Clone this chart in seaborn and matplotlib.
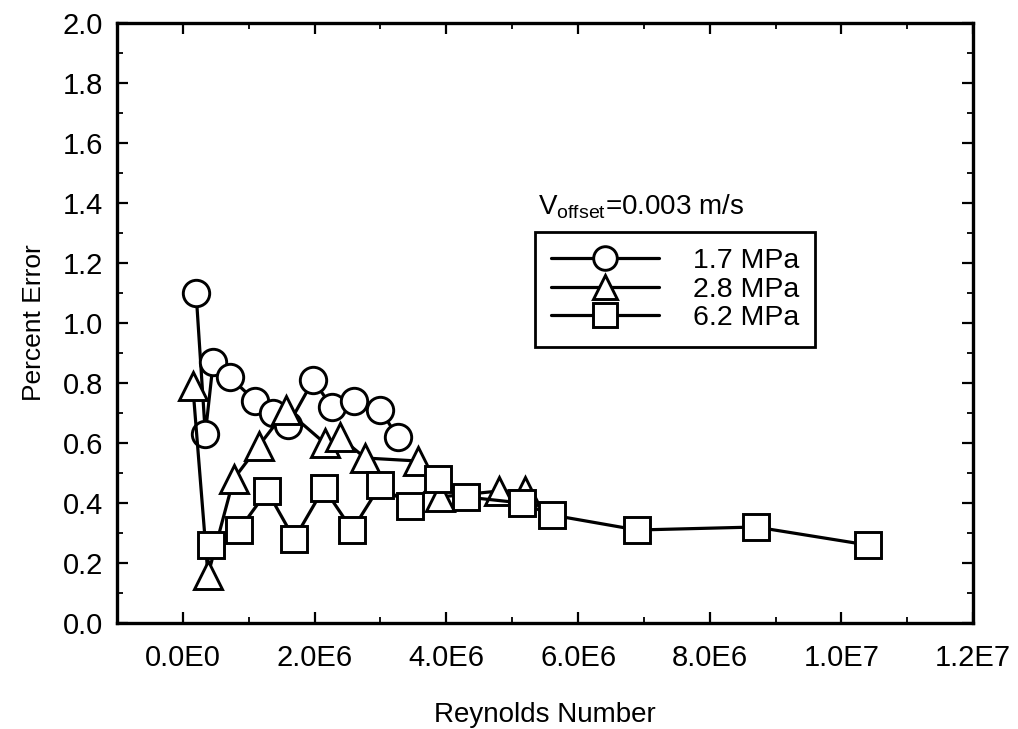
import numpy as np
import pandas as pd
import matplotlib
matplotlib.use("Agg")
import matplotlib.pyplot as plt
import seaborn as sns
from matplotlib.ticker import MultipleLocator, FuncFormatter

sns.set_theme(style="ticks")
plt.rcParams['font.family'] = ['Liberation Sans', 'DejaVu Sans']
plt.rcParams['text.color'] = 'black'
plt.rcParams['axes.labelcolor'] = 'black'

# --- data ---
re_17 = [0.20e6, 0.34e6, 0.46e6, 0.71e6, 1.10e6, 1.37e6, 1.60e6, 1.98e6, 2.26e6, 2.60e6, 3.00e6, 3.26e6]
err_17 = [1.10, 0.63, 0.87, 0.82, 0.74, 0.70, 0.66, 0.81, 0.72, 0.74, 0.71, 0.62]

re_28 = [0.15e6, 0.38e6, 0.77e6, 1.15e6, 1.57e6, 2.15e6, 2.38e6, 2.77e6, 3.57e6, 3.90e6, 4.80e6, 5.20e6]
err_28 = [0.79, 0.16, 0.48, 0.59, 0.71, 0.60, 0.62, 0.55, 0.54, 0.42, 0.44, 0.44]

re_62 = [0.42e6, 0.85e6, 1.28e6, 1.69e6, 2.14e6, 2.57e6, 3.00e6, 3.45e6, 3.88e6, 4.30e6, 5.15e6, 5.60e6, 6.90e6, 8.70e6, 10.4e6]
err_62 = [0.26, 0.31, 0.44, 0.28, 0.45, 0.31, 0.46, 0.39, 0.48, 0.42, 0.40, 0.36, 0.31, 0.32, 0.26]

labels = ["1.7 MPa", "2.8 MPa", "6.2 MPa"]
markers = ["o", "^", "s"]
x_ticks = [0, 2e6, 4e6, 6e6, 8e6, 10e6, 12e6]
x_tick_labels = ["0.0E0", "2.0E6", "4.0E6", "6.0E6", "8.0E6", "1.0E7", "1.2E7"]
y_ticks = [0.0, 0.2, 0.4, 0.6, 0.8, 1.0, 1.2, 1.4, 1.6, 1.8, 2.0]

series = [(re_17, err_17), (re_28, err_28), (re_62, err_62)]

fig = plt.figure(figsize=(10.18, 7.29), dpi=100)
ax = fig.add_axes([0.115, 0.1454, 0.841, 0.823])

for (xs, ys), lab, mk in zip(series, labels, markers):
    df = pd.DataFrame({"Re": xs, "err": ys})
    ms = 19 if mk == "o" else (20 if mk == "^" else 18.5)
    sns.lineplot(data=df, x="Re", y="err", ax=ax, sort=False, color="black",
                 linewidth=2.3, marker=mk, markersize=ms, markerfacecolor="white",
                 markeredgecolor="black", markeredgewidth=2.1, label=lab,
                 estimator=None)

ax.set_xlim(-1e6, 12e6)
ax.set_ylim(0, 2.0)
ax.set_xticks(x_ticks)
ax.set_xticklabels(x_tick_labels)
ax.set_yticks(y_ticks)
ax.yaxis.set_major_formatter(FuncFormatter(lambda v, p: f"{v:.1f}"))
ax.xaxis.set_minor_locator(MultipleLocator(1e6))
ax.yaxis.set_minor_locator(MultipleLocator(0.1))

ax.tick_params(which="both", direction="in", top=True, right=True, colors="black")
ax.tick_params(which="major", length=8, width=1.6, labelsize=21)
ax.tick_params(which="minor", length=4, width=1.3)
ax.tick_params(axis="x", which="major", pad=15)
ax.tick_params(axis="y", which="major", pad=10)
for s in ax.spines.values():
    s.set_linewidth(2.4)
    s.set_color("black")

ax.set_xlabel("Reynolds Number", fontsize=20, labelpad=22)
ax.set_ylabel("Percent Error", fontsize=19, labelpad=12)

leg = ax.legend(loc="lower left", bbox_to_anchor=(0.488, 0.46), fontsize=20.5,
                numpoints=1, handlelength=3.8, handletextpad=1.2,
                labelspacing=0.1, borderpad=0.55, borderaxespad=0,
                frameon=True, fancybox=False, edgecolor="black", framealpha=1.0)
leg.get_frame().set_linewidth(2.0)
for h in leg.legend_handles:
    h.set_markersize(17)

ax.text(0.492, 0.67, "V$_{\\mathregular{offset}}$=0.003 m/s", transform=ax.transAxes,
        fontsize=20, ha="left", va="bottom")

fig.savefig("out.png", dpi=100)
